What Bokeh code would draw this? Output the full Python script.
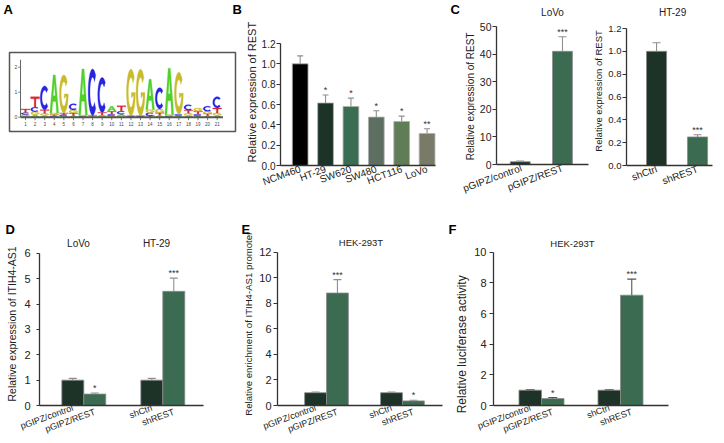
import numpy as np
from bokeh.plotting import figure
from bokeh.layouts import row, column
from bokeh.models import (Range1d, FixedTicker, Label, LabelSet, ColumnDataSource,
                          Whisker, TeeHead, NumeralTickFormatter, LinearAxis)
from bokeh.embed import file_html
from bokeh.resources import INLINE
from bokeh.core.properties import value

# ---------------- DATA ----------------
logo_pos = list(range(1, 22))
logo_A = [0.05, 0.10, 0.07, 1.52, 0.05, 0.07, 1.85, 0.04, 0.05, 0.20, 0.07, 0.02, 0.02, 1.22, 0.08, 1.86, 0.06, 0.06, 0.05, 0.06, 0.07]
logo_C = [0.07, 0.18, 0.95, 0.05, 0.05, 0.25, 0.04, 1.85, 1.40, 0.07, 0.12, 0.02, 0.02, 0.12, 0.85, 0.05, 0.06, 0.22, 0.07, 0.20, 0.45]
logo_G = [0.06, 0.12, 0.08, 0.07, 1.52, 0.12, 0.04, 0.00, 0.04, 0.05, 0.05, 1.86, 1.86, 0.12, 0.15, 0.05, 1.68, 0.10, 0.13, 0.10, 0.10]
logo_T = [0.15, 0.42, 0.15, 0.05, 0.07, 0.10, 0.00, 0.04, 0.10, 0.12, 0.22, 0.02, 0.02, 0.06, 0.10, 0.00, 0.00, 0.12, 0.12, 0.08, 0.20]
logo_yticks = [0, 1, 2]

b_cells = ["NCM460", "HT-29", "SW620", "SW480", "HCT116", "LoVo"]
b_vals = [1.00, 0.615, 0.58, 0.476, 0.433, 0.315]
b_errs = [0.078, 0.078, 0.083, 0.062, 0.053, 0.046]
b_sig = ["", "*", "*", "*", "*", "**"]
b_yticks = [0, 0.2, 0.4, 0.6, 0.8, 1.0, 1.2]

c1_cell = "LoVo"
c1_groups = ["pGIPZ/control", "pGIPZ/REST"]
c1_vals = [1.0, 41.0]
c1_errs = [0.25, 5.3]
c1_sig = ["", "***"]
c1_yticks = [0, 10, 20, 30, 40, 50]

c2_cell = "HT-29"
c2_groups = ["shCtrl", "shREST"]
c2_vals = [1.0, 0.25]
c2_errs = [0.075, 0.02]
c2_sig = ["", "***"]
c2_yticks = [0, 0.2, 0.4, 0.6, 0.8, 1.0, 1.2]

def_labels = ["pGIPZ/control", "pGIPZ/REST", "shCtrl", "shREST"]
d_cells = ["LoVo", "HT-29"]
d_vals = [1.0, 0.45, 1.0, 4.5]
d_errs = [0.07, 0.04, 0.07, 0.52]
d_sig = ["", "*", "", "***"]
d_yticks = [0, 1, 2, 3, 4, 5, 6]

e_cell = "HEK-293T"
e_vals = [1.0, 8.8, 1.0, 0.36]
e_errs = [0.06, 1.05, 0.06, 0.05]
e_sig = ["", "***", "", "*"]
e_yticks = [0, 2, 4, 6, 8, 10, 12]

f_cell = "HEK-293T"
f_vals = [1.0, 0.45, 1.0, 7.2]
f_errs = [0.03, 0.07, 0.03, 1.05]
f_sig = ["", "*", "", "***"]
f_yticks = [0, 2, 4, 6, 8, 10]

# ---------------- STYLE / LAYOUT ----------------
FONT = "Liberation Sans"
AXC = "#333333"
TXT = "#222222"
DARK = "#1d3327"
GREEN = "#3b6b51"
B_COLORS = ["#000000", "#1e3328", "#3a6e53", "#5c6f60", "#617d57", "#7a7a68"]
NB = "\u00a0"

# page-pixel layout of every panel: figure box, plot frame, x of first bar/group,
# pixels per category step, pixel y of the top tick, end of the x axis line
GEOM = {
    "B": dict(fig=(242, 0, 219, 218), frame=(277, 461, 0, 165), x0=297, sx=25.8, y1=43, xend=435),
    "C1": dict(fig=(461, 0, 129, 218), frame=(491, 590, 0, 164), x0=516, sx=44.5, y1=26, xend=588),
    "C2": dict(fig=(590, 0, 132, 218), frame=(622, 722, 0, 165), x0=653.3, sx=42.7, y1=28, xend=712),
    "D": dict(fig=(0, 218, 240, 223), frame=(39, 203, 236, 407), x0=83.3, sx=79, y1=253, xend=None),
    "E": dict(fig=(240, 218, 208, 223), frame=(276, 442, 236, 409), x0=325.3, sx=76.4, y1=252, xend=None),
    "F": dict(fig=(448, 218, 274, 223), frame=(493, 668, 236, 407), x0=541, sx=79, y1=252, xend=None),
}


def no_align(p):
    try:
        p.frame_align = False
    except Exception:
        pass


class Panel:
    def __init__(self, key, ymax):
        g = GEOM[key]
        fx, fy, w, h = g["fig"]
        fl, fr, ft, fb = g["frame"]
        self.g = g
        self.fb = fb
        self.spy = (fb - g["y1"]) / ymax
        xs = (fl - g["x0"]) / g["sx"]
        xe = (fr - g["x0"]) / g["sx"]
        ye = (fb - ft) / self.spy
        p = figure(width=w, height=h, output_backend="svg", toolbar_location=None,
                   x_range=Range1d(xs, xe), y_range=Range1d(0, ye),
                   min_border_left=int(fl - fx), min_border_right=int(fx + w - fr),
                   min_border_top=int(ft - fy), min_border_bottom=int(fy + h - fb))
        no_align(p)
        p.grid.visible = False
        p.outline_line_color = None
        p.background_fill_color = "white"
        p.border_fill_color = "white"
        p.title.visible = False
        p.yaxis[0].bounds = (0, ymax)
        if g["xend"] is not None:
            p.xaxis[0].bounds = (xs, (g["xend"] - g["x0"]) / g["sx"])
        self.p = p
        self.fl = fl

    def px2x(self, px):
        return (px - self.g["x0"]) / self.g["sx"]

    def px2y(self, py):
        return (self.fb - py) / self.spy

    def letter_title(self, letter, page_x):
        t = self.p.title
        t.visible = True
        t.text = letter
        t.align = "left"
        t.offset = page_x - self.fl
        t.standoff = 0
        t.text_font = FONT
        t.text_font_size = "13px"
        t.text_font_style = "bold"
        t.text_color = "#000000"

    def label(self, px, py, text, fs, bold=False, align="center", baseline="middle"):
        self.p.add_layout(Label(x=self.px2x(px), y=self.px2y(py), text=text, text_font=FONT,
                                text_font_size=fs, text_font_style="bold" if bold else "normal",
                                text_color="#000000" if bold else TXT,
                                text_align=align, text_baseline=baseline))


def style_xaxis(xa, ticks, labels, fs, standoff, line=True):
    xa.ticker = FixedTicker(ticks=ticks)
    xa.major_label_overrides = {t: l for t, l in zip(ticks, labels)}
    xa.major_label_orientation = 0.35
    xa.major_label_standoff = standoff
    xa.major_label_text_font = FONT
    xa.major_label_text_font_size = fs
    xa.major_label_text_color = TXT
    xa.axis_line_color = AXC if line else None
    xa.axis_line_width = 1.3
    xa.major_tick_line_color = None
    xa.major_tick_out = 0
    xa.major_tick_in = 0
    xa.minor_tick_line_color = None


def style_yaxis(p, yticks, fmt, tick_fs, ylabel, ylabel_fs, lab_standoff, axlab_standoff, tick_out=4):
    ya = p.yaxis[0]
    ya.ticker = FixedTicker(ticks=yticks)
    ya.formatter = NumeralTickFormatter(format=fmt)
    ya.axis_line_color = AXC
    ya.axis_line_width = 1.3
    ya.major_tick_line_color = AXC
    ya.major_tick_in = 0
    ya.major_tick_out = tick_out
    ya.minor_tick_line_color = None
    ya.major_label_text_font = FONT
    ya.major_label_text_font_size = tick_fs
    ya.major_label_text_color = TXT
    ya.major_label_standoff = lab_standoff
    ya.axis_label = ylabel
    ya.axis_label_text_font = FONT
    ya.axis_label_text_font_size = ylabel_fs
    ya.axis_label_text_font_style = "normal"
    ya.axis_label_text_color = TXT
    ya.axis_label_standoff = axlab_standoff


def add_bars(p, xs, vals, errs, colors, width, sig, err_color, cap, edge="#8a8a8a"):
    src = ColumnDataSource(dict(x=xs, top=vals, up=[v + e for v, e in zip(vals, errs)],
                                c=colors, sig=sig))
    p.add_layout(Whisker(base="x", lower="top", upper="up", source=src,
                         line_color=err_color, line_width=1.1,
                         upper_head=TeeHead(size=cap, line_color=err_color, line_width=1.1),
                         lower_head=None, level="overlay"))
    p.vbar(x="x", top="top", bottom=0, width=width, fill_color="c",
           line_color=edge, line_width=0.8, source=src)
    p.add_layout(LabelSet(x="x", y="up", text="sig", source=src, text_align="center",
                          text_baseline="bottom", text_font=value(FONT),
                          text_font_size="9px", text_color="#333333", y_offset=0))


# ---------------- PANEL A : sequence logo ----------------
LOGO = dict(fig_w=242, fig_h=218, pos1_px=25.0, step_px=9.585, base_px=116.7, bit_px=25.0,
            box=(9, 235, 52, 131))


def lx(px):
    return 1 + (px - LOGO["pos1_px"]) / LOGO["step_px"]


def ly(py):
    return (LOGO["base_px"] - py) / LOGO["bit_px"]


def tmpl_T():
    return [([0, 1, 1, 0.6, 0.6, 0.4, 0.4, 0], [1, 1, 0.8, 0.8, 0, 0, 0.8, 0.8])]


def tmpl_A():
    return [([0, 0.38, 0.62, 1, 0.77, 0.67, 0.33, 0.23], [0, 1, 1, 0, 0, 0.3, 0.3, 0]),
            ([0.39, 0.5, 0.61], [0.45, 0.8, 0.45])]


def tmpl_C():
    t1 = np.linspace(np.radians(45), np.radians(315), 30)
    t2 = t1[::-1]
    x = list(0.5 + 0.5 * np.cos(t1)) + list(0.5 + 0.3 * np.cos(t2))
    y = list(0.5 + 0.5 * np.sin(t1)) + list(0.5 + 0.32 * np.sin(t2))
    return [(x, y)]


def tmpl_G():
    t1 = np.linspace(np.radians(40), np.radians(360), 34)
    t2 = np.linspace(np.radians(350), np.radians(40), 30)
    x = list(0.5 + 0.5 * np.cos(t1)) + [0.55, 0.55] + list(0.5 + 0.3 * np.cos(t2))
    y = list(0.5 + 0.5 * np.sin(t1)) + [0.5, 0.38] + list(0.5 + 0.32 * np.sin(t2))
    return [(x, y)]


pA = figure(width=LOGO["fig_w"], height=LOGO["fig_h"], output_backend="svg", toolbar_location=None,
            x_range=Range1d(lx(0), lx(LOGO["fig_w"])), y_range=Range1d(ly(LOGO["fig_h"]), ly(0)),
            min_border_left=0, min_border_right=0, min_border_top=0, min_border_bottom=0)
no_align(pA)
pA.axis.visible = False
pA.grid.visible = False
pA.title.visible = False
pA.outline_line_color = None
bx0, bx1, by0, by1 = LOGO["box"]
pA.quad(left=[lx(bx0)], right=[lx(bx1)], top=[ly(by0)], bottom=[ly(by1)],
        fill_color=None, line_color="#555555", line_width=1.5)

heights = {"A": logo_A, "C": logo_C, "G": logo_G, "T": logo_T}
lcolors = {"A": "#4fd12b", "C": "#2626e0", "G": "#c8bb2c", "T": "#d8282c"}
templates = {"A": tmpl_A(), "C": tmpl_C(), "G": tmpl_G(), "T": tmpl_T()}
mx, my, mc = [], [], []
for i, pos in enumerate(logo_pos):
    stack = sorted([(heights[b][i], b) for b in "ACGT"])
    base = 0.0
    for hgt, b in stack:
        if hgt <= 0:
            continue
        rx, ry = [], []
        for (tx, ty) in templates[b]:
            rx.append([float(pos - 0.46 + 0.92 * t) for t in tx])
            ry.append([float(base + hgt * t) for t in ty])
        mx.append([rx])
        my.append([ry])
        mc.append(lcolors[b])
        base += hgt
pA.multi_polygons(xs="xs", ys="ys", fill_color="c", line_color="c", line_width=0.3,
                  source=ColumnDataSource(dict(xs=mx, ys=my, c=mc)))

ax0 = 0.48
pA.segment(x0=[ax0], y0=[0], x1=[ax0], y1=[2.3], line_color="#666666", line_width=1)
pA.segment(x0=[ax0], y0=[0], x1=[logo_pos[-1] + 0.6], y1=[0], line_color="#555555", line_width=2)
pA.segment(x0=[ax0 - 0.25] * 3, y0=logo_yticks, x1=[ax0] * 3, y1=logo_yticks,
           line_color="#666666", line_width=0.8)
pA.text(x=[ax0 - 0.35] * 3, y=logo_yticks, text=[str(t) for t in logo_yticks],
        text_font=value(FONT), text_font_size="5px", text_align="right",
        text_baseline="middle", text_color="#444444")
pA.segment(x0=logo_pos, y0=[0] * 21, x1=logo_pos, y1=[-0.12] * 21, line_color="#555555", line_width=0.8)
pA.text(x=logo_pos, y=[-0.2] * 21, text=[str(t) for t in logo_pos],
        text_font=value(FONT), text_font_size="4.5px", text_align="center",
        text_baseline="top", text_color="#444444")
for letter, px in (("A", 3), ("B", 232)):
    pA.add_layout(Label(x=lx(px), y=ly(1.5), text=letter, text_font=FONT, text_font_style="bold",
                        text_font_size="13px", text_color="#000000",
                        text_align="left", text_baseline="top"))

# ---------------- PANEL B ----------------
B = Panel("B", b_yticks[-1])
pB = B.p
style_yaxis(pB, b_yticks, "0.0", "10px", "Relative expression of REST" + NB * 6, "11px", 1, 1)
bx = list(range(len(b_cells)))
style_xaxis(pB.xaxis[0], bx, b_cells, "10px", 3)
add_bars(pB, bx, b_vals, b_errs, B_COLORS, 0.62, b_sig, "#8f8f8f", 6, edge="#b0b0b0")
B.label(449.7, 1.5, "C", "13px", bold=True, align="left", baseline="top")

# ---------------- PANEL C ----------------
cx = [0, 1]
C1 = Panel("C1", c1_yticks[-1])
pC1 = C1.p
style_yaxis(pC1, c1_yticks, "0", "10.5px", "Relative expression of REST" + NB * 10, "10px", 1, 1)
style_xaxis(pC1.xaxis[0], cx, c1_groups, "10px", 3)
add_bars(pC1, cx, c1_vals, c1_errs, [DARK, GREEN], 0.47, c1_sig, "#8f8f8f", 8)
C1.label(550, 12, c1_cell, "10px")

C2 = Panel("C2", c2_yticks[-1])
pC2 = C2.p
style_yaxis(pC2, c2_yticks, "0.0", "9.5px", "Relative expression of REST" + NB * 6, "9.5px", 1, 1)
style_xaxis(pC2.xaxis[0], cx, c2_groups, "10px", 3)
add_bars(pC2, cx, c2_vals, c2_errs, [DARK, GREEN], 0.49, c2_sig, "#8f8f8f", 8)
C2.label(670, 12, c2_cell, "10px")


# ---------------- PANELS D-F ----------------
def group_x(n, width):
    return [(i // 2) + ((i % 2) - 0.5) * width for i in range(n)]


def grouped_xaxes(p, xs, fs):
    style_xaxis(p.xaxis[0], [xs[0], xs[2]], [def_labels[0], def_labels[2]], fs, 2)
    ax2 = LinearAxis()
    p.add_layout(ax2, "below")
    style_xaxis(ax2, [xs[1], xs[3]], [def_labels[1], def_labels[3]], fs, -27, line=False)


GCOL = [DARK, GREEN, DARK, GREEN]

D = Panel("D", d_yticks[-1])
pD = D.p
style_yaxis(pD, d_yticks, "0", "11px", "Relative expression of ITIH4-AS1" + NB * 2, "10.5px", 6, 3, tick_out=3)
dx = group_x(4, 0.278)
add_bars(pD, dx, d_vals, d_errs, GCOL, 0.278, d_sig, "#8f8f8f", 8)
grouped_xaxes(pD, dx, "9px")
D.label(78, 243, d_cells[0], "10px")
D.label(156, 243, d_cells[1], "10px")
D.letter_title("D", 5)

E = Panel("E", e_yticks[-1])
pE = E.p
style_yaxis(pE, e_yticks, "0", "11px", "Relative enrichment of ITIH4-AS1 promoter" + NB * 2, "9.6px", 2, 2)
ex = group_x(4, 0.288)
add_bars(pE, ex, e_vals, e_errs, GCOL, 0.288, e_sig, "#8f8f8f", 8)
grouped_xaxes(pE, ex, "9px")
E.label(360, 242, e_cell, "9.5px")
E.letter_title("E", 240)

F = Panel("F", f_yticks[-1])
pF = F.p
style_yaxis(pF, f_yticks, "0", "11px", "Relative luciferase activity" + NB * 14, "12px", 3, 2)
fx = group_x(4, 0.285)
add_bars(pF, fx, f_vals, f_errs, GCOL, 0.285, f_sig, "#555555", 9)
grouped_xaxes(pF, fx, "9px")
F.label(572, 243, f_cell, "9.5px")
F.letter_title("F", 448)

layout = column(row(pA, pB, pC1, pC2), row(pD, pE, pF))
open("out.html", "w").write(file_html(layout, INLINE))
